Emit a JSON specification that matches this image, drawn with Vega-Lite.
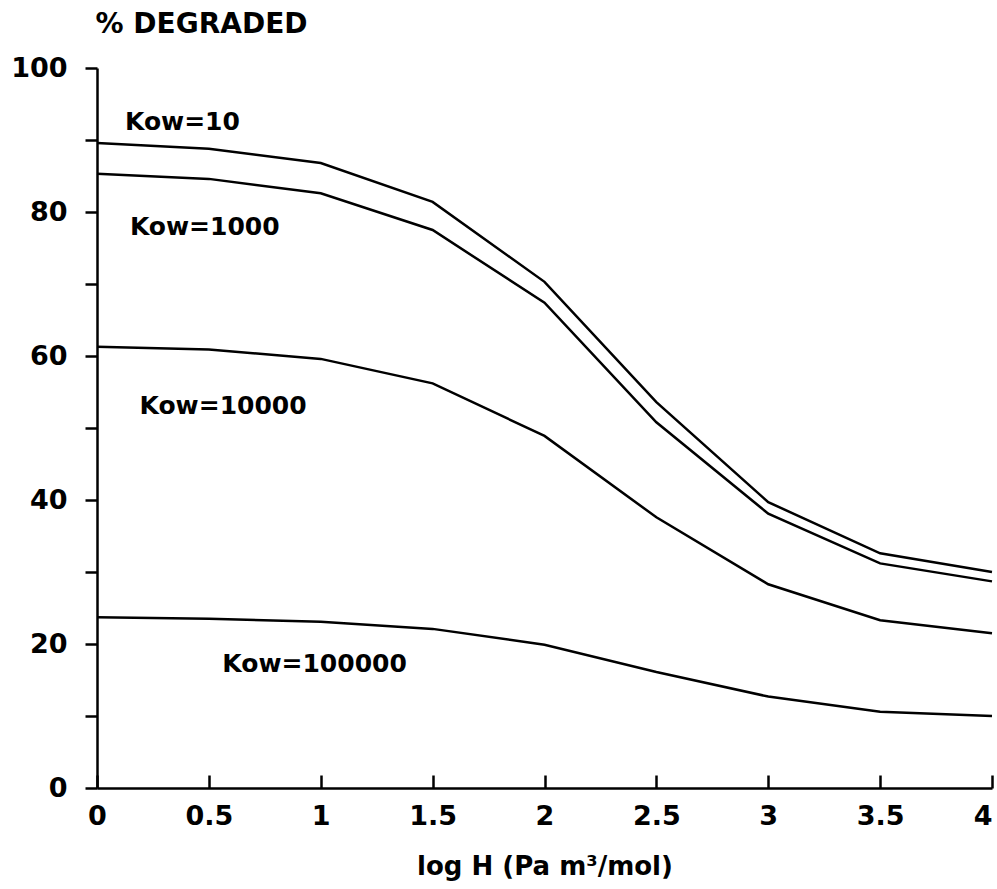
{
  "$schema": "https://vega.github.io/schema/vega-lite/v6.json",
  "width": 895,
  "height": 720,
  "autosize": {"type": "none"},
  "padding": {"left": 97, "top": 68, "right": 5, "bottom": 101},
  "background": "white",
  "config": {
    "view": {"stroke": null},
    "font": "DejaVu Sans",
    "axis": {
      "domainColor": "black",
      "domainWidth": 2.5,
      "tickColor": "black",
      "tickWidth": 2.5,
      "grid": false,
      "labelFont": "DejaVu Sans",
      "labelFontWeight": "bold",
      "labelFontSize": 27,
      "labelColor": "black",
      "titleFont": "DejaVu Sans",
      "titleFontWeight": "bold",
      "titleFontSize": 26,
      "titleColor": "black"
    }
  },
  "datasets": {
    "curves": [
      {"kow": "10", "logH": 0, "pct": 89.6},
      {"kow": "10", "logH": 0.5, "pct": 88.8},
      {"kow": "10", "logH": 1, "pct": 86.8},
      {"kow": "10", "logH": 1.5, "pct": 81.4},
      {"kow": "10", "logH": 2, "pct": 70.3},
      {"kow": "10", "logH": 2.5, "pct": 53.6},
      {"kow": "10", "logH": 3, "pct": 39.7},
      {"kow": "10", "logH": 3.5, "pct": 32.6},
      {"kow": "10", "logH": 4, "pct": 30.0},
      {"kow": "1000", "logH": 0, "pct": 85.3},
      {"kow": "1000", "logH": 0.5, "pct": 84.6},
      {"kow": "1000", "logH": 1, "pct": 82.6},
      {"kow": "1000", "logH": 1.5, "pct": 77.5},
      {"kow": "1000", "logH": 2, "pct": 67.4},
      {"kow": "1000", "logH": 2.5, "pct": 50.8},
      {"kow": "1000", "logH": 3, "pct": 38.1},
      {"kow": "1000", "logH": 3.5, "pct": 31.2},
      {"kow": "1000", "logH": 4, "pct": 28.7},
      {"kow": "10000", "logH": 0, "pct": 61.3},
      {"kow": "10000", "logH": 0.5, "pct": 60.9},
      {"kow": "10000", "logH": 1, "pct": 59.6},
      {"kow": "10000", "logH": 1.5, "pct": 56.2},
      {"kow": "10000", "logH": 2, "pct": 48.9},
      {"kow": "10000", "logH": 2.5, "pct": 37.6},
      {"kow": "10000", "logH": 3, "pct": 28.3},
      {"kow": "10000", "logH": 3.5, "pct": 23.3},
      {"kow": "10000", "logH": 4, "pct": 21.5},
      {"kow": "100000", "logH": 0, "pct": 23.7},
      {"kow": "100000", "logH": 0.5, "pct": 23.5},
      {"kow": "100000", "logH": 1, "pct": 23.1},
      {"kow": "100000", "logH": 1.5, "pct": 22.1},
      {"kow": "100000", "logH": 2, "pct": 19.9},
      {"kow": "100000", "logH": 2.5, "pct": 16.1},
      {"kow": "100000", "logH": 3, "pct": 12.7},
      {"kow": "100000", "logH": 3.5, "pct": 10.6},
      {"kow": "100000", "logH": 4, "pct": 10.0}
    ],
    "labels": [
      {"label": "Kow=10", "logH": 0.125, "pct": 91.4},
      {"label": "Kow=1000", "logH": 0.147, "pct": 76.8},
      {"label": "Kow=10000", "logH": 0.19, "pct": 51.9},
      {"label": "Kow=100000", "logH": 0.56, "pct": 16.1}
    ]
  },
  "layer": [
    {
      "data": {"name": "curves"},
      "mark": {"type": "line", "color": "black", "strokeWidth": 2.5},
      "encoding": {
        "x": {
          "field": "logH", "type": "quantitative",
          "scale": {"domain": [0, 4], "nice": false, "zero": false},
          "axis": {
            "values": [0, 0.5, 1, 1.5, 2, 2.5, 3, 3.5, 4],
            "format": "~g",
            "tickSize": -13,
            "labelPadding": 28,
            "labelFlush": false,
            "labelAlign": {"condition": {"test": "datum.value == 4", "value": "right"}, "value": "center"},
            "title": "log H (Pa m³/mol)",
            "titlePadding": 24
          }
        },
        "y": {
          "field": "pct", "type": "quantitative",
          "scale": {"domain": [0, 100], "nice": false},
          "axis": {
            "values": [0, 10, 20, 30, 40, 50, 60, 70, 80, 90, 100],
            "labelExpr": "datum.value % 20 == 0 ? datum.label : ''",
            "tickSize": 12,
            "labelPadding": 18,
            "title": "% DEGRADED",
            "titleAngle": 0,
            "titleAlign": "left",
            "titleBaseline": "alphabetic",
            "titleX": -2,
            "titleY": -36,
            "titleFontSize": 28
          }
        },
        "detail": {"field": "kow", "type": "nominal"}
      }
    },
    {
      "data": {"name": "labels"},
      "mark": {"type": "text", "align": "left", "baseline": "alphabetic", "font": "DejaVu Sans", "fontWeight": "bold", "fontSize": 25, "color": "black"},
      "encoding": {
        "x": {"field": "logH", "type": "quantitative"},
        "y": {"field": "pct", "type": "quantitative"},
        "text": {"field": "label"}
      }
    }
  ]
}
